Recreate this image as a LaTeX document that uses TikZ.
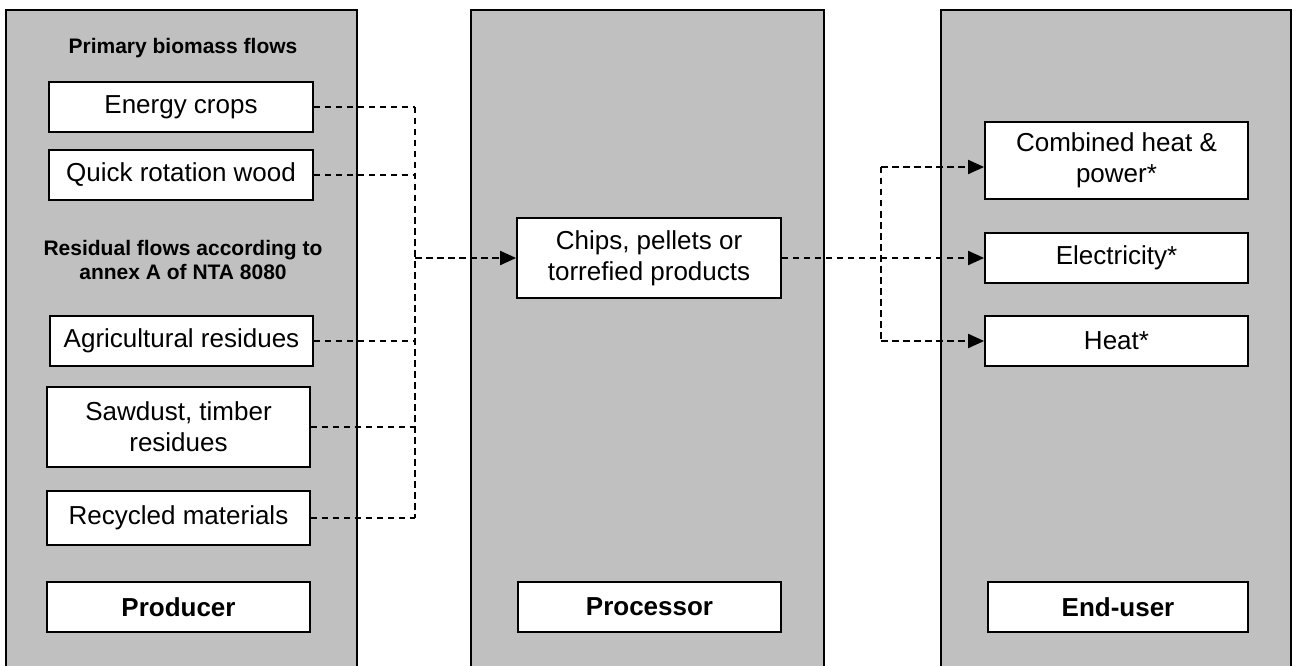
\documentclass[tikz,border=0pt]{standalone}
\usepackage{fontspec}
\setmainfont{Liberation Sans}
\usetikzlibrary{arrows.meta}
\definecolor{panelgray}{RGB}{192,192,192}
\tikzset{
  panel/.style={draw=black, line width=2pt, fill=panelgray, inner sep=0pt},
  item/.style={draw=black, line width=1.8pt, fill=white, inner sep=0pt, align=center,
               font=\fontsize{26}{31}\selectfont},
  role/.style={item, font=\fontsize{26}{31}\selectfont\bfseries},
  heading/.style={inner sep=0pt, align=center, font=\fontsize{21}{24.5}\selectfont\bfseries},
  flow/.style={line width=2pt, dash pattern=on 6.5pt off 4.5pt},
  flowarrow/.style={flow, -{Triangle[length=16pt,width=14pt]}}
}
\begin{document}
\begin{tikzpicture}[x=1pt, y=-1pt]
  \useasboundingbox (0,0) rectangle (1294,666);
  \clip (0,0) rectangle (1294,666);
  \fill[white] (0,0) rectangle (1294,666);

  % three stage columns (they run past the lower edge)
  \node[panel, minimum width=351pt, minimum height=700pt] (colprod) at (181.5,360) {};
  \node[panel, minimum width=353pt, minimum height=700pt] (colproc) at (647.5,360) {};
  \node[panel, minimum width=350pt, minimum height=700pt] (coluser) at (1116,360) {};

  % producer column
  \node[heading] (hprim) at (183,48) {Primary biomass flows};
  \node[item, minimum width=264pt, minimum height=50pt] (ec) at (181,107) {Energy crops};
  \node[item, minimum width=264pt, minimum height=50pt] (qrw) at (181,175) {Quick rotation wood};
  \node[heading] (hres) at (183,260) {Residual flows according to\\annex A of NTA 8080};
  \node[item, minimum width=263pt, minimum height=50pt] (agr) at (181.5,341) {Agricultural residues};
  \node[item, minimum width=263pt, minimum height=80pt] (saw) at (178.5,427) {Sawdust, timber\\residues};
  \node[item, minimum width=263pt, minimum height=54pt] (rec) at (178.5,518) {Recycled materials};
  \node[role, minimum width=263pt, minimum height=50pt] (producer) at (178.5,607) {Producer};

  % processor column
  \node[item, minimum width=264pt, minimum height=80pt] (chips) at (649,258) {Chips, pellets or\\torrefied products};
  \node[role, minimum width=263pt, minimum height=50pt] (processor) at (649.5,607) {Processor};

  % end-user column
  \node[item, minimum width=263pt, minimum height=77pt] (chp) at (1116.5,160.5) {Combined heat \&\\power*};
  \node[item, minimum width=263pt, minimum height=50pt] (elec) at (1116.5,258) {Electricity*};
  \node[item, minimum width=263pt, minimum height=50pt] (heat) at (1116.5,341) {Heat*};
  \node[role, minimum width=260pt, minimum height=50pt] (enduser) at (1118,607) {End-user};

  % collecting lines from the biomass sources
  \coordinate (busL) at (415,0);
  \coordinate (busR) at (881,0);
  \foreach \s in {ec,qrw,agr,saw,rec}
    \draw[flow] (\s.east) -- (\s.east -| busL);
  \draw[flow] (ec.east -| busL) -- (rec.east -| busL);
  \draw[flowarrow] (busL |- chips.west) -- (chips.west);

  % distribution to the end uses
  \draw[flowarrow] (chips.east) -- (elec.west);
  \draw[flow] (busR |- 0,167) -- (busR |- heat.west);
  \draw[flowarrow] (busR |- 0,167) -- (chp.west |- 0,167);
  \draw[flowarrow] (busR |- heat.west) -- (heat.west);
\end{tikzpicture}
\end{document}
